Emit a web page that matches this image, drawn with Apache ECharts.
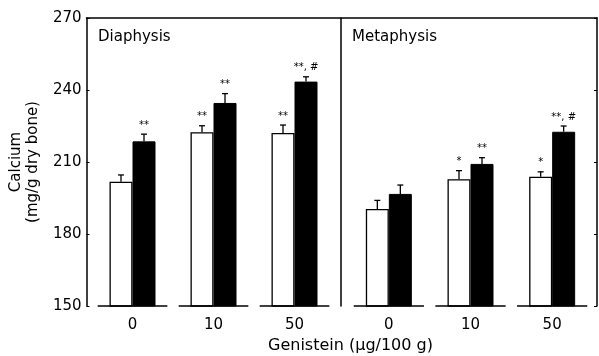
<!DOCTYPE html>
<html>
<head>
<meta charset="utf-8">
<script src="https://cdn.jsdelivr.net/npm/echarts@6/dist/echarts.min.js"></script>
<style>html,body{margin:0;padding:0;background:#fff}#c{width:599px;height:356px}</style>
</head>
<body>
<div id="c"></div>
<script>
// ---- data ----
const categories = ['0', '10', '50'];
const yTicks = [150, 180, 210, 240, 270];
const panelNames = ['Diaphysis', 'Metaphysis'];
// open (white) bars and filled (black) bars
const diaOpen = [201.8, 222.4, 222.1];
const diaOpenErr = [2.8, 2.7, 3.3];
const diaFilled = [218.6, 234.6, 243.5];
const diaFilledErr = [3.0, 3.9, 2.0];
const metOpen = [190.4, 202.8, 203.9];
const metOpenErr = [3.6, 3.6, 2.0];
const metFilled = [196.7, 209.2, 222.6];
const metFilledErr = [3.7, 2.6, 2.4];
const diaOpenSig = ['', '**', '**'];
const diaFilledSig = ['**', '**', '**, #'];
const metOpenSig = ['', '*', '*'];
const metFilledSig = ['', '**', '**, #'];
const yName = 'Calcium\n(mg/g dry bone)';
const xName = 'Genistein (\u03bcg/100 g)';

const FONT = 'DejaVu Sans';
const chart = echarts.init(document.getElementById('c'), null, {renderer: 'canvas'});

function errSeries(gi, vals, errs, sigs, offset) {
  return {
    type: 'custom', xAxisIndex: gi + 1, yAxisIndex: gi + 3, z: 5,
    data: vals.map((v, i) => [i, v, errs[i]]),
    renderItem: function (params, api) {
      const i = api.value(0), v = api.value(1), e = api.value(2);
      const p0 = api.coord([i, v]);
      const p1 = api.coord([i, v + e]);
      const x = p0[0] + offset;
      const sig = sigs[params.dataIndex];
      const children = [
        {type: 'line', shape: {x1: x, y1: p0[1], x2: x, y2: p1[1]}, style: {stroke: '#000', lineWidth: 1.3}},
        {type: 'line', shape: {x1: x - 3, y1: p1[1], x2: x + 3, y2: p1[1]}, style: {stroke: '#000', lineWidth: 1.3}}
      ];
      if (sig) children.push({type: 'text', style: {text: sig, x: x, y: p1[1] - 4, textAlign: 'center', textVerticalAlign: 'bottom', font: '10px ' + FONT, fill: '#000'}});
      return {type: 'group', children: children};
    }
  };
}
function baseSeries(gi) {
  return {
    type: 'custom', xAxisIndex: gi + 1, yAxisIndex: gi + 3, z: 6,
    data: categories.map((c, i) => [i, yTicks[0]]),
    renderItem: function (params, api) {
      const p = api.coord([api.value(0), api.value(1)]);
      const half = api.size([1, 0])[0] * 0.43;
      return {type: 'line', shape: {x1: p[0] - half, y1: p[1], x2: p[0] + half, y2: p[1]}, style: {stroke: '#000', lineWidth: 1.5}};
    }
  };
}
function barSeries(gi, vals, filled) {
  return {
    type: 'bar', xAxisIndex: gi + 1, yAxisIndex: gi + 3, barWidth: 23, barGap: '0%', z: 3,
    data: vals,
    itemStyle: filled ? {color: '#000', borderColor: '#000', borderWidth: 1} : {color: '#fff', borderColor: '#000', borderWidth: 1.3},
    silent: true
  };
}

const yBase = {type: 'value', min: yTicks[0], max: yTicks[yTicks.length - 1], interval: 30};
const titleStyle = {fontFamily: FONT, fontSize: 15, fontWeight: 'normal', color: '#000'};

chart.setOption({
  animation: false,
  backgroundColor: '#fff',
  textStyle: {fontFamily: FONT, color: '#000'},
  title: [
    {text: panelNames[0], left: 98, top: 30, padding: 0, textStyle: titleStyle},
    {text: panelNames[1], left: 352, top: 30, padding: 0, textStyle: titleStyle},
    {text: xName, left: 268, top: 338, padding: 0, textStyle: Object.assign({}, titleStyle, {fontSize: 16})}
  ],
  grid: [
    {left: 86, top: 18, width: 511, height: 288, show: false},
    {left: 92, top: 18, width: 243, height: 288, show: false},
    {left: 348, top: 18, width: 245, height: 288, show: false}
  ],
  xAxis: [
    {gridIndex: 0, type: 'value', min: 0, max: 1, position: 'top', axisLine: {show: true, lineStyle: {color: '#000', width: 1.5}}, axisTick: {show: false}, axisLabel: {show: false}, splitLine: {show: false}},
    {gridIndex: 1, type: 'category', data: categories, axisLine: {show: false}, axisTick: {show: false}, axisLabel: {margin: 12, fontSize: 15, color: '#000', fontFamily: FONT}},
    {gridIndex: 2, type: 'category', data: categories, axisLine: {show: false}, axisTick: {show: false}, axisLabel: {margin: 12, fontSize: 15, color: '#000', fontFamily: FONT}}
  ],
  yAxis: [
    Object.assign({}, yBase, {gridIndex: 0, position: 'left', name: yName, nameLocation: 'middle', nameGap: 44, nameRotate: 90,
      nameTextStyle: {fontSize: 15, lineHeight: 17, color: '#000', fontFamily: FONT},
      axisLine: {show: true, lineStyle: {color: '#000', width: 1.5}}, axisTick: {show: true, inside: true, length: 3, lineStyle: {color: '#000'}},
      axisLabel: {margin: 5, fontSize: 15, color: '#000', fontFamily: FONT}, splitLine: {show: false}}),
    Object.assign({}, yBase, {gridIndex: 0, position: 'right',
      axisLine: {show: true, lineStyle: {color: '#000', width: 1.5}}, axisTick: {show: true, inside: true, length: 3, lineStyle: {color: '#000'}},
      axisLabel: {show: false}, splitLine: {show: false}}),
    Object.assign({}, yBase, {gridIndex: 0, show: false}),
    Object.assign({}, yBase, {gridIndex: 1, show: false}),
    Object.assign({}, yBase, {gridIndex: 2, position: 'left', offset: 7,
      axisLine: {show: true, lineStyle: {color: '#000', width: 1.5}}, axisTick: {show: false}, axisLabel: {show: false}, splitLine: {show: false}})
  ],
  series: [
    barSeries(0, diaOpen, false), barSeries(0, diaFilled, true),
    barSeries(1, metOpen, false), barSeries(1, metFilled, true),
    errSeries(0, diaOpen, diaOpenErr, diaOpenSig, -11.5),
    errSeries(0, diaFilled, diaFilledErr, diaFilledSig, 11.5),
    errSeries(1, metOpen, metOpenErr, metOpenSig, -11.5),
    errSeries(1, metFilled, metFilledErr, metFilledSig, 11.5),
    baseSeries(0), baseSeries(1)
  ]
});
</script>
</body>
</html>
